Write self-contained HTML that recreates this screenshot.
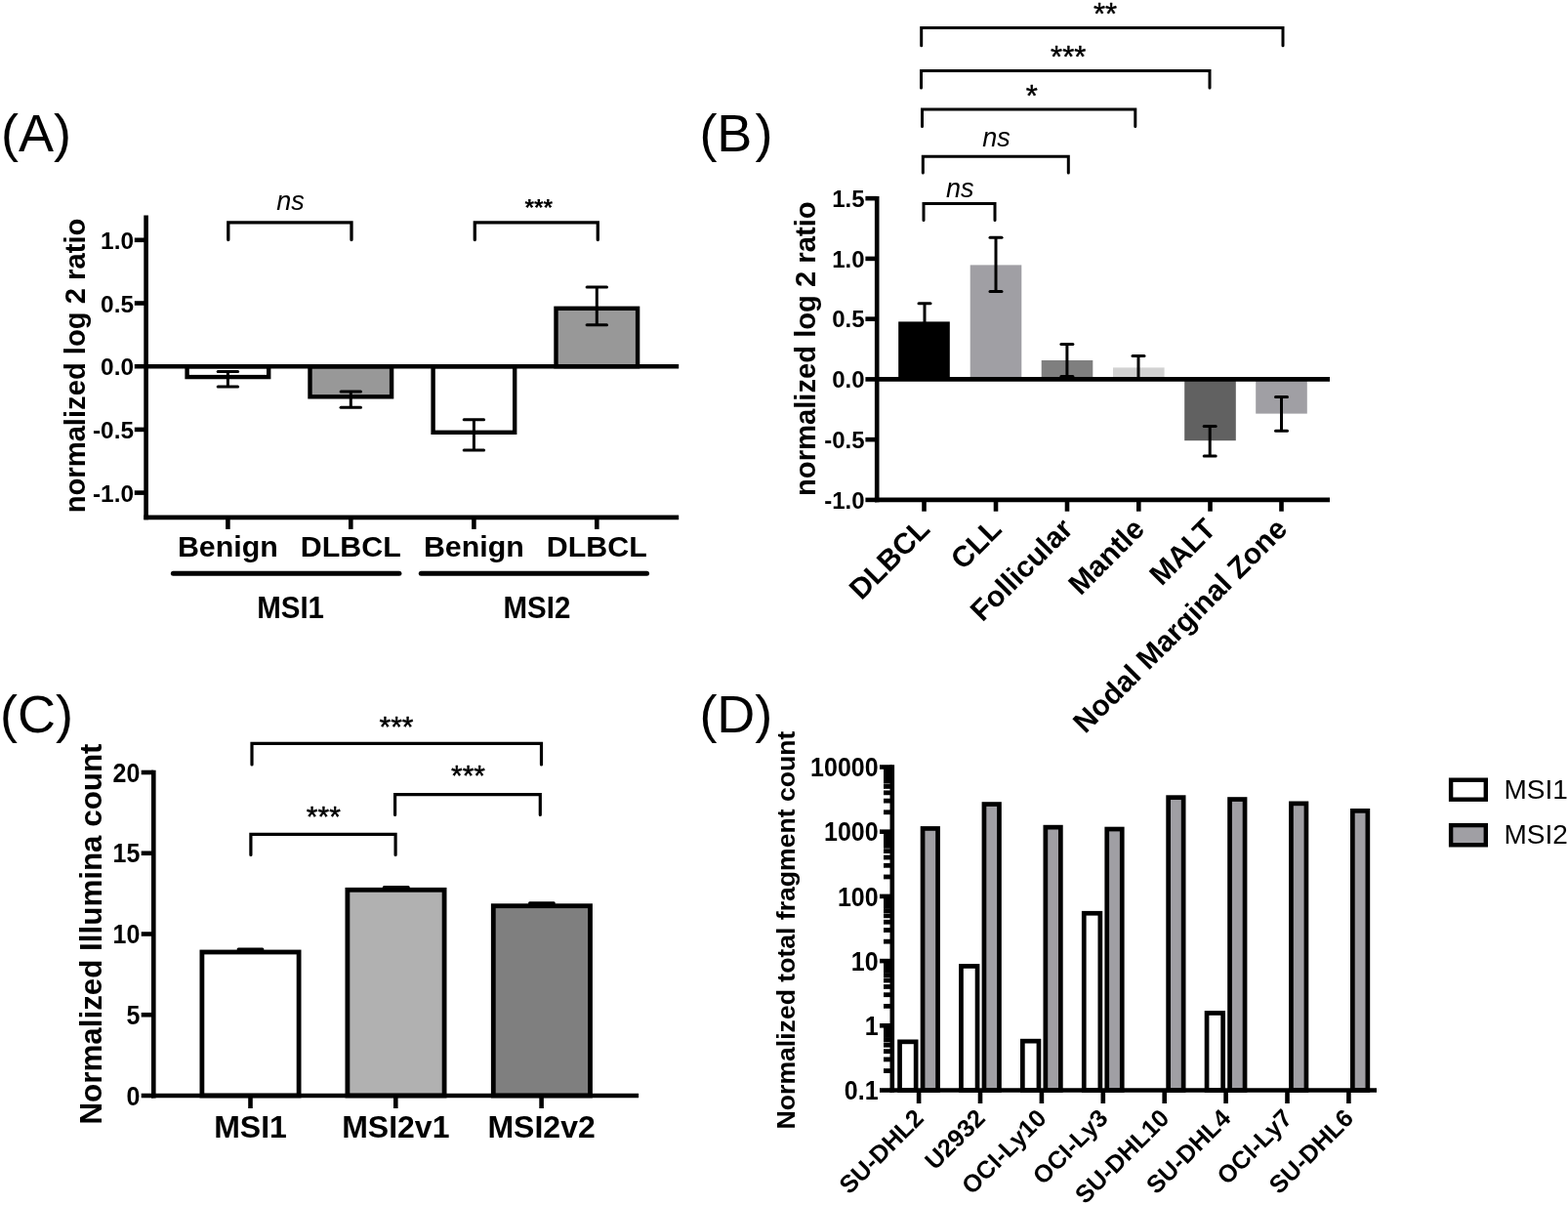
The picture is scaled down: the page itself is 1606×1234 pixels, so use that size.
<!DOCTYPE html>
<html><head><meta charset="utf-8"><title>Figure</title>
<style>html,body{margin:0;padding:0;background:#fff;} svg{display:block;}</style>
</head><body>
<svg width="1606" height="1234" viewBox="0 0 1606 1234">
<rect width="1606" height="1234" fill="#fff"/>
<text x="1.00" y="154.80" font-size="54" font-family="Liberation Sans, Arial, sans-serif" text-anchor="start" >(A)</text>
<text x="716.4" y="155.4" font-size="54" font-family="Liberation Sans, Arial, sans-serif">(B<tspan dx="3">)</tspan></text>
<text x="0.00" y="749.70" font-size="54" font-family="Liberation Sans, Arial, sans-serif" text-anchor="start" >(C)</text>
<text x="716.40" y="749.80" font-size="54" font-family="Liberation Sans, Arial, sans-serif" text-anchor="start" >(D)</text>
<rect x="191.60" y="375.20" width="83.60" height="10.87" fill="#fff" stroke="#000" stroke-width="4.4"/>
<rect x="317.50" y="375.20" width="83.60" height="31.10" fill="#989898" stroke="#000" stroke-width="4.4"/>
<rect x="443.60" y="375.20" width="83.60" height="67.60" fill="#fff" stroke="#000" stroke-width="4.4"/>
<rect x="569.50" y="315.80" width="83.60" height="59.40" fill="#989898" stroke="#000" stroke-width="4.4"/>
<line x1="233.40" y1="380.50" x2="233.40" y2="396.00" stroke="#000" stroke-width="3.0" stroke-linecap="butt"/>
<line x1="223.20" y1="380.50" x2="243.60" y2="380.50" stroke="#000" stroke-width="3.0" stroke-linecap="round"/>
<line x1="223.20" y1="396.00" x2="243.60" y2="396.00" stroke="#000" stroke-width="3.0" stroke-linecap="round"/>
<line x1="359.30" y1="401.00" x2="359.30" y2="417.30" stroke="#000" stroke-width="3.0" stroke-linecap="butt"/>
<line x1="349.10" y1="401.00" x2="369.50" y2="401.00" stroke="#000" stroke-width="3.0" stroke-linecap="round"/>
<line x1="349.10" y1="417.30" x2="369.50" y2="417.30" stroke="#000" stroke-width="3.0" stroke-linecap="round"/>
<line x1="485.40" y1="429.70" x2="485.40" y2="460.90" stroke="#000" stroke-width="3.0" stroke-linecap="butt"/>
<line x1="475.20" y1="429.70" x2="495.60" y2="429.70" stroke="#000" stroke-width="3.0" stroke-linecap="round"/>
<line x1="475.20" y1="460.90" x2="495.60" y2="460.90" stroke="#000" stroke-width="3.0" stroke-linecap="round"/>
<line x1="611.30" y1="293.90" x2="611.30" y2="332.80" stroke="#000" stroke-width="3.0" stroke-linecap="butt"/>
<line x1="601.10" y1="293.90" x2="621.50" y2="293.90" stroke="#000" stroke-width="3.0" stroke-linecap="round"/>
<line x1="601.10" y1="332.80" x2="621.50" y2="332.80" stroke="#000" stroke-width="3.0" stroke-linecap="round"/>
<line x1="149.60" y1="220.50" x2="149.60" y2="532.20" stroke="#000" stroke-width="4.6" stroke-linecap="butt"/>
<line x1="147.30" y1="529.90" x2="695.20" y2="529.90" stroke="#000" stroke-width="4.6" stroke-linecap="butt"/>
<line x1="149.60" y1="375.20" x2="695.20" y2="375.20" stroke="#000" stroke-width="4.6" stroke-linecap="butt"/>
<line x1="137.80" y1="245.80" x2="149.60" y2="245.80" stroke="#000" stroke-width="4.6" stroke-linecap="butt"/>
<text x="137.00" y="254.80" font-size="24.4" font-family="Liberation Sans, Arial, sans-serif" font-weight="bold" text-anchor="end" >1.0</text>
<line x1="137.80" y1="310.50" x2="149.60" y2="310.50" stroke="#000" stroke-width="4.6" stroke-linecap="butt"/>
<text x="137.00" y="319.50" font-size="24.4" font-family="Liberation Sans, Arial, sans-serif" font-weight="bold" text-anchor="end" >0.5</text>
<line x1="137.80" y1="375.20" x2="149.60" y2="375.20" stroke="#000" stroke-width="4.6" stroke-linecap="butt"/>
<text x="137.00" y="384.20" font-size="24.4" font-family="Liberation Sans, Arial, sans-serif" font-weight="bold" text-anchor="end" >0.0</text>
<line x1="137.80" y1="439.90" x2="149.60" y2="439.90" stroke="#000" stroke-width="4.6" stroke-linecap="butt"/>
<text x="137.00" y="448.90" font-size="24.4" font-family="Liberation Sans, Arial, sans-serif" font-weight="bold" text-anchor="end" >-0.5</text>
<line x1="137.80" y1="504.60" x2="149.60" y2="504.60" stroke="#000" stroke-width="4.6" stroke-linecap="butt"/>
<text x="137.00" y="513.60" font-size="24.4" font-family="Liberation Sans, Arial, sans-serif" font-weight="bold" text-anchor="end" >-1.0</text>
<line x1="233.40" y1="529.90" x2="233.40" y2="541.90" stroke="#000" stroke-width="4.6" stroke-linecap="butt"/>
<line x1="359.30" y1="529.90" x2="359.30" y2="541.90" stroke="#000" stroke-width="4.6" stroke-linecap="butt"/>
<line x1="485.40" y1="529.90" x2="485.40" y2="541.90" stroke="#000" stroke-width="4.6" stroke-linecap="butt"/>
<line x1="611.30" y1="529.90" x2="611.30" y2="541.90" stroke="#000" stroke-width="4.6" stroke-linecap="butt"/>
<text x="233.40" y="570.40" font-size="30.4" font-family="Liberation Sans, Arial, sans-serif" font-weight="bold" text-anchor="middle" >Benign</text>
<text x="359.30" y="570.40" font-size="30.4" font-family="Liberation Sans, Arial, sans-serif" font-weight="bold" text-anchor="middle" >DLBCL</text>
<text x="485.40" y="570.40" font-size="30.4" font-family="Liberation Sans, Arial, sans-serif" font-weight="bold" text-anchor="middle" >Benign</text>
<text x="611.30" y="570.40" font-size="30.4" font-family="Liberation Sans, Arial, sans-serif" font-weight="bold" text-anchor="middle" >DLBCL</text>
<line x1="177.40" y1="587.30" x2="408.90" y2="587.30" stroke="#000" stroke-width="5" stroke-linecap="round"/>
<line x1="431.30" y1="587.30" x2="662.50" y2="587.30" stroke="#000" stroke-width="5" stroke-linecap="round"/>
<text transform="translate(297.6,632.9) scale(1,1.07)" font-size="29.5" font-family="Liberation Sans, Arial, sans-serif" font-weight="bold" text-anchor="middle">MSI1</text>
<text transform="translate(549.9,632.9) scale(1,1.07)" font-size="29.5" font-family="Liberation Sans, Arial, sans-serif" font-weight="bold" text-anchor="middle">MSI2</text>
<text transform="translate(86.6,374.5) rotate(-90)" font-size="29.2" font-family="Liberation Sans, Arial, sans-serif" font-weight="bold" text-anchor="middle">normalized log 2 ratio</text>
<path d="M233.80 245.50 V227.80 H360.00 V245.50" fill="none" stroke="#000" stroke-width="3.3" stroke-linecap="round" stroke-linejoin="miter"/>
<path d="M486.30 245.50 V227.80 H612.30 V245.50" fill="none" stroke="#000" stroke-width="3.3" stroke-linecap="round" stroke-linejoin="miter"/>
<text x="297.40" y="214.90" font-size="27" font-family="Liberation Sans, Arial, sans-serif" font-style="italic" text-anchor="middle" >ns</text>
<text x="551.70" y="221.00" font-size="24.5" font-family="Liberation Sans, Arial, sans-serif" font-weight="bold" text-anchor="middle" >***</text>
<rect x="920.20" y="329.40" width="52.60" height="59.00" fill="#000"/>
<rect x="993.70" y="271.40" width="52.60" height="117.00" fill="#a09fa4"/>
<rect x="1066.70" y="369.00" width="52.60" height="19.40" fill="#7f7f7f"/>
<rect x="1140.00" y="376.40" width="52.60" height="12.00" fill="#d2d2d2"/>
<rect x="1213.20" y="388.40" width="52.60" height="62.80" fill="#616161"/>
<rect x="1286.20" y="388.40" width="52.60" height="35.20" fill="#a09fa4"/>
<line x1="947.00" y1="310.70" x2="947.00" y2="340.00" stroke="#000" stroke-width="3.0" stroke-linecap="butt"/>
<line x1="941.00" y1="310.70" x2="953.00" y2="310.70" stroke="#000" stroke-width="3.0" stroke-linecap="round"/>
<line x1="1020.00" y1="243.30" x2="1020.00" y2="298.50" stroke="#000" stroke-width="3.0" stroke-linecap="butt"/>
<line x1="1014.00" y1="243.30" x2="1026.00" y2="243.30" stroke="#000" stroke-width="3.0" stroke-linecap="round"/>
<line x1="1014.00" y1="298.50" x2="1026.00" y2="298.50" stroke="#000" stroke-width="3.0" stroke-linecap="round"/>
<line x1="1092.90" y1="352.40" x2="1092.90" y2="385.40" stroke="#000" stroke-width="3.0" stroke-linecap="butt"/>
<line x1="1086.90" y1="352.40" x2="1098.90" y2="352.40" stroke="#000" stroke-width="3.0" stroke-linecap="round"/>
<line x1="1086.90" y1="385.40" x2="1098.90" y2="385.40" stroke="#000" stroke-width="3.0" stroke-linecap="round"/>
<line x1="1166.00" y1="364.40" x2="1166.00" y2="388.40" stroke="#000" stroke-width="3.0" stroke-linecap="butt"/>
<line x1="1160.00" y1="364.40" x2="1172.00" y2="364.40" stroke="#000" stroke-width="3.0" stroke-linecap="round"/>
<line x1="1239.20" y1="436.40" x2="1239.20" y2="467.00" stroke="#000" stroke-width="3.0" stroke-linecap="butt"/>
<line x1="1233.20" y1="436.40" x2="1245.20" y2="436.40" stroke="#000" stroke-width="3.0" stroke-linecap="round"/>
<line x1="1233.20" y1="467.00" x2="1245.20" y2="467.00" stroke="#000" stroke-width="3.0" stroke-linecap="round"/>
<line x1="1312.50" y1="406.50" x2="1312.50" y2="441.30" stroke="#000" stroke-width="3.0" stroke-linecap="butt"/>
<line x1="1306.50" y1="406.50" x2="1318.50" y2="406.50" stroke="#000" stroke-width="3.0" stroke-linecap="round"/>
<line x1="1306.50" y1="441.30" x2="1318.50" y2="441.30" stroke="#000" stroke-width="3.0" stroke-linecap="round"/>
<line x1="898.20" y1="200.90" x2="898.20" y2="514.20" stroke="#000" stroke-width="4.6" stroke-linecap="butt"/>
<line x1="895.90" y1="511.90" x2="1362.00" y2="511.90" stroke="#000" stroke-width="4.6" stroke-linecap="butt"/>
<line x1="898.20" y1="388.40" x2="1362.00" y2="388.40" stroke="#000" stroke-width="4.6" stroke-linecap="butt"/>
<line x1="886.40" y1="203.15" x2="898.20" y2="203.15" stroke="#000" stroke-width="4.6" stroke-linecap="butt"/>
<text x="885.60" y="211.75" font-size="24" font-family="Liberation Sans, Arial, sans-serif" font-weight="bold" text-anchor="end" >1.5</text>
<line x1="886.40" y1="264.90" x2="898.20" y2="264.90" stroke="#000" stroke-width="4.6" stroke-linecap="butt"/>
<text x="885.60" y="273.50" font-size="24" font-family="Liberation Sans, Arial, sans-serif" font-weight="bold" text-anchor="end" >1.0</text>
<line x1="886.40" y1="326.65" x2="898.20" y2="326.65" stroke="#000" stroke-width="4.6" stroke-linecap="butt"/>
<text x="885.60" y="335.25" font-size="24" font-family="Liberation Sans, Arial, sans-serif" font-weight="bold" text-anchor="end" >0.5</text>
<line x1="886.40" y1="388.40" x2="898.20" y2="388.40" stroke="#000" stroke-width="4.6" stroke-linecap="butt"/>
<text x="885.60" y="397.00" font-size="24" font-family="Liberation Sans, Arial, sans-serif" font-weight="bold" text-anchor="end" >0.0</text>
<line x1="886.40" y1="450.15" x2="898.20" y2="450.15" stroke="#000" stroke-width="4.6" stroke-linecap="butt"/>
<text x="885.60" y="458.75" font-size="24" font-family="Liberation Sans, Arial, sans-serif" font-weight="bold" text-anchor="end" >-0.5</text>
<line x1="886.40" y1="511.90" x2="898.20" y2="511.90" stroke="#000" stroke-width="4.6" stroke-linecap="butt"/>
<text x="885.60" y="520.50" font-size="24" font-family="Liberation Sans, Arial, sans-serif" font-weight="bold" text-anchor="end" >-1.0</text>
<line x1="946.50" y1="511.90" x2="946.50" y2="523.70" stroke="#000" stroke-width="4.6" stroke-linecap="butt"/>
<text transform="translate(946.50,536) rotate(-45)" font-size="30" font-family="Liberation Sans, Arial, sans-serif" font-weight="bold" text-anchor="end" y="10.7">DLBCL</text>
<line x1="1020.00" y1="511.90" x2="1020.00" y2="523.70" stroke="#000" stroke-width="4.6" stroke-linecap="butt"/>
<text transform="translate(1020.00,536) rotate(-45)" font-size="30" font-family="Liberation Sans, Arial, sans-serif" font-weight="bold" text-anchor="end" y="10.7">CLL</text>
<line x1="1093.00" y1="511.90" x2="1093.00" y2="523.70" stroke="#000" stroke-width="4.6" stroke-linecap="butt"/>
<text transform="translate(1093.00,536) rotate(-45)" font-size="30" font-family="Liberation Sans, Arial, sans-serif" font-weight="bold" text-anchor="end" y="10.7">Follicular</text>
<line x1="1166.30" y1="511.90" x2="1166.30" y2="523.70" stroke="#000" stroke-width="4.6" stroke-linecap="butt"/>
<text transform="translate(1166.30,536) rotate(-45)" font-size="30" font-family="Liberation Sans, Arial, sans-serif" font-weight="bold" text-anchor="end" y="10.7">Mantle</text>
<line x1="1239.50" y1="511.90" x2="1239.50" y2="523.70" stroke="#000" stroke-width="4.6" stroke-linecap="butt"/>
<text transform="translate(1239.50,536) rotate(-45)" font-size="30" font-family="Liberation Sans, Arial, sans-serif" font-weight="bold" text-anchor="end" y="10.7">MALT</text>
<line x1="1312.50" y1="511.90" x2="1312.50" y2="523.70" stroke="#000" stroke-width="4.6" stroke-linecap="butt"/>
<text transform="translate(1312.50,536) rotate(-45)" font-size="30" font-family="Liberation Sans, Arial, sans-serif" font-weight="bold" text-anchor="end" y="10.7">Nodal Marginal Zone</text>
<text transform="translate(834.8,357.2) rotate(-90)" font-size="29.2" font-family="Liberation Sans, Arial, sans-serif" font-weight="bold" text-anchor="middle">normalized log 2 ratio</text>
<path d="M946.00 225.50 V208.50 H1019.00 V225.50" fill="none" stroke="#000" stroke-width="3.0" stroke-linecap="round" stroke-linejoin="miter"/>
<path d="M945.30 177.00 V160.20 H1094.30 V177.00" fill="none" stroke="#000" stroke-width="3.0" stroke-linecap="round" stroke-linejoin="miter"/>
<path d="M944.50 129.60 V111.90 H1162.80 V129.60" fill="none" stroke="#000" stroke-width="3.0" stroke-linecap="round" stroke-linejoin="miter"/>
<path d="M943.50 90.10 V72.50 H1239.00 V90.10" fill="none" stroke="#000" stroke-width="3.0" stroke-linecap="round" stroke-linejoin="miter"/>
<path d="M943.70 46.70 V28.50 H1314.00 V46.70" fill="none" stroke="#000" stroke-width="3.0" stroke-linecap="round" stroke-linejoin="miter"/>
<text x="983.20" y="201.70" font-size="27" font-family="Liberation Sans, Arial, sans-serif" font-style="italic" text-anchor="middle" >ns</text>
<text x="1020.40" y="150.00" font-size="27" font-family="Liberation Sans, Arial, sans-serif" font-style="italic" text-anchor="middle" >ns</text>
<text x="1056.80" y="109.40" font-size="31" font-family="Liberation Sans, Arial, sans-serif" text-anchor="middle"  stroke="#000" stroke-width="0.45" stroke-linejoin="round">*</text>
<text x="1094.20" y="68.70" font-size="31" font-family="Liberation Sans, Arial, sans-serif" text-anchor="middle"  stroke="#000" stroke-width="0.45" stroke-linejoin="round">***</text>
<text x="1132.10" y="25.20" font-size="31" font-family="Liberation Sans, Arial, sans-serif" text-anchor="middle"  stroke="#000" stroke-width="0.45" stroke-linejoin="round">**</text>
<rect x="206.90" y="975.00" width="99.20" height="147.00" fill="#fff" stroke="#000" stroke-width="4.8"/>
<rect x="355.90" y="911.30" width="99.20" height="210.70" fill="#b1b1b1" stroke="#000" stroke-width="4.8"/>
<rect x="505.30" y="927.70" width="99.20" height="194.30" fill="#7f7f7f" stroke="#000" stroke-width="4.8"/>
<line x1="244.10" y1="972.00" x2="268.90" y2="972.00" stroke="#000" stroke-width="3.0" stroke-linecap="round"/>
<line x1="393.40" y1="908.40" x2="418.20" y2="908.40" stroke="#000" stroke-width="3.0" stroke-linecap="round"/>
<line x1="542.50" y1="924.80" x2="567.30" y2="924.80" stroke="#000" stroke-width="3.0" stroke-linecap="round"/>
<line x1="157.30" y1="788.80" x2="157.30" y2="1124.40" stroke="#000" stroke-width="4.6" stroke-linecap="butt"/>
<line x1="155.00" y1="1122.00" x2="654.10" y2="1122.00" stroke="#000" stroke-width="4.6" stroke-linecap="butt"/>
<line x1="144.70" y1="1122.00" x2="157.30" y2="1122.00" stroke="#000" stroke-width="4.6" stroke-linecap="butt"/>
<text transform="translate(143.4,1122.00) scale(1,1.08)" y="8.9" font-size="25" font-family="Liberation Sans, Arial, sans-serif" font-weight="bold" text-anchor="end">0</text>
<line x1="144.70" y1="1039.25" x2="157.30" y2="1039.25" stroke="#000" stroke-width="4.6" stroke-linecap="butt"/>
<text transform="translate(143.4,1039.25) scale(1,1.08)" y="8.9" font-size="25" font-family="Liberation Sans, Arial, sans-serif" font-weight="bold" text-anchor="end">5</text>
<line x1="144.70" y1="956.50" x2="157.30" y2="956.50" stroke="#000" stroke-width="4.6" stroke-linecap="butt"/>
<text transform="translate(143.4,956.50) scale(1,1.08)" y="8.9" font-size="25" font-family="Liberation Sans, Arial, sans-serif" font-weight="bold" text-anchor="end">10</text>
<line x1="144.70" y1="873.75" x2="157.30" y2="873.75" stroke="#000" stroke-width="4.6" stroke-linecap="butt"/>
<text transform="translate(143.4,873.75) scale(1,1.08)" y="8.9" font-size="25" font-family="Liberation Sans, Arial, sans-serif" font-weight="bold" text-anchor="end">15</text>
<line x1="144.70" y1="791.00" x2="157.30" y2="791.00" stroke="#000" stroke-width="4.6" stroke-linecap="butt"/>
<text transform="translate(143.4,791.00) scale(1,1.08)" y="8.9" font-size="25" font-family="Liberation Sans, Arial, sans-serif" font-weight="bold" text-anchor="end">20</text>
<line x1="256.50" y1="1122.00" x2="256.50" y2="1135.00" stroke="#000" stroke-width="4.6" stroke-linecap="butt"/>
<text x="256.50" y="1165.40" font-size="32" font-family="Liberation Sans, Arial, sans-serif" font-weight="bold" text-anchor="middle" >MSI1</text>
<line x1="405.30" y1="1122.00" x2="405.30" y2="1135.00" stroke="#000" stroke-width="4.6" stroke-linecap="butt"/>
<text x="405.30" y="1165.40" font-size="32" font-family="Liberation Sans, Arial, sans-serif" font-weight="bold" text-anchor="middle" >MSI2v1</text>
<line x1="554.60" y1="1122.00" x2="554.60" y2="1135.00" stroke="#000" stroke-width="4.6" stroke-linecap="butt"/>
<text x="554.60" y="1165.40" font-size="32" font-family="Liberation Sans, Arial, sans-serif" font-weight="bold" text-anchor="middle" >MSI2v2</text>
<text transform="translate(104.3,956.5) rotate(-90)" font-size="31.35" font-family="Liberation Sans, Arial, sans-serif" font-weight="bold" text-anchor="middle">Normalized Illumina count</text>
<path d="M258.00 783.00 V761.30 H554.50 V783.00" fill="none" stroke="#000" stroke-width="3.2" stroke-linecap="round" stroke-linejoin="miter"/>
<path d="M404.60 834.40 V813.70 H553.30 V834.40" fill="none" stroke="#000" stroke-width="3.2" stroke-linecap="round" stroke-linejoin="miter"/>
<path d="M256.90 875.40 V854.40 H405.10 V875.40" fill="none" stroke="#000" stroke-width="3.2" stroke-linecap="round" stroke-linejoin="miter"/>
<text x="406.00" y="754.40" font-size="30" font-family="Liberation Sans, Arial, sans-serif" text-anchor="middle"  stroke="#000" stroke-width="0.45" stroke-linejoin="round">***</text>
<text x="479.50" y="803.80" font-size="30" font-family="Liberation Sans, Arial, sans-serif" text-anchor="middle"  stroke="#000" stroke-width="0.45" stroke-linejoin="round">***</text>
<text x="331.30" y="845.60" font-size="30" font-family="Liberation Sans, Arial, sans-serif" text-anchor="middle"  stroke="#000" stroke-width="0.45" stroke-linejoin="round">***</text>
<rect x="921.55" y="1066.85" width="16.60" height="49.65" fill="#fff" stroke="#000" stroke-width="4.7"/>
<rect x="945.05" y="848.45" width="15.50" height="268.05" fill="#a09fa4" stroke="#000" stroke-width="4.7"/>
<rect x="984.45" y="989.45" width="16.60" height="127.05" fill="#fff" stroke="#000" stroke-width="4.7"/>
<rect x="1007.95" y="823.55" width="15.50" height="292.95" fill="#a09fa4" stroke="#000" stroke-width="4.7"/>
<rect x="1047.35" y="1066.15" width="16.60" height="50.35" fill="#fff" stroke="#000" stroke-width="4.7"/>
<rect x="1070.85" y="847.15" width="15.50" height="269.35" fill="#a09fa4" stroke="#000" stroke-width="4.7"/>
<rect x="1110.25" y="935.25" width="16.60" height="181.25" fill="#fff" stroke="#000" stroke-width="4.7"/>
<rect x="1133.75" y="849.05" width="15.50" height="267.45" fill="#a09fa4" stroke="#000" stroke-width="4.7"/>
<rect x="1196.65" y="816.65" width="15.50" height="299.85" fill="#a09fa4" stroke="#000" stroke-width="4.7"/>
<rect x="1236.05" y="1037.45" width="16.60" height="79.05" fill="#fff" stroke="#000" stroke-width="4.7"/>
<rect x="1259.55" y="818.55" width="15.50" height="297.95" fill="#a09fa4" stroke="#000" stroke-width="4.7"/>
<rect x="1322.45" y="822.85" width="15.50" height="293.65" fill="#a09fa4" stroke="#000" stroke-width="4.7"/>
<rect x="1385.35" y="830.35" width="15.50" height="286.15" fill="#a09fa4" stroke="#000" stroke-width="4.7"/>
<line x1="905.00" y1="1096.57" x2="913.80" y2="1096.57" stroke="#000" stroke-width="4.8" stroke-linecap="butt"/>
<line x1="905.00" y1="1084.91" x2="913.80" y2="1084.91" stroke="#000" stroke-width="4.8" stroke-linecap="butt"/>
<line x1="905.00" y1="1076.64" x2="913.80" y2="1076.64" stroke="#000" stroke-width="4.8" stroke-linecap="butt"/>
<line x1="905.00" y1="1070.23" x2="913.80" y2="1070.23" stroke="#000" stroke-width="4.8" stroke-linecap="butt"/>
<line x1="905.00" y1="1064.99" x2="913.80" y2="1064.99" stroke="#000" stroke-width="4.8" stroke-linecap="butt"/>
<line x1="905.00" y1="1060.55" x2="913.80" y2="1060.55" stroke="#000" stroke-width="4.8" stroke-linecap="butt"/>
<line x1="905.00" y1="1056.72" x2="913.80" y2="1056.72" stroke="#000" stroke-width="4.8" stroke-linecap="butt"/>
<line x1="905.00" y1="1053.33" x2="913.80" y2="1053.33" stroke="#000" stroke-width="4.8" stroke-linecap="butt"/>
<line x1="905.00" y1="1030.37" x2="913.80" y2="1030.37" stroke="#000" stroke-width="4.8" stroke-linecap="butt"/>
<line x1="905.00" y1="1018.71" x2="913.80" y2="1018.71" stroke="#000" stroke-width="4.8" stroke-linecap="butt"/>
<line x1="905.00" y1="1010.44" x2="913.80" y2="1010.44" stroke="#000" stroke-width="4.8" stroke-linecap="butt"/>
<line x1="905.00" y1="1004.03" x2="913.80" y2="1004.03" stroke="#000" stroke-width="4.8" stroke-linecap="butt"/>
<line x1="905.00" y1="998.79" x2="913.80" y2="998.79" stroke="#000" stroke-width="4.8" stroke-linecap="butt"/>
<line x1="905.00" y1="994.35" x2="913.80" y2="994.35" stroke="#000" stroke-width="4.8" stroke-linecap="butt"/>
<line x1="905.00" y1="990.52" x2="913.80" y2="990.52" stroke="#000" stroke-width="4.8" stroke-linecap="butt"/>
<line x1="905.00" y1="987.13" x2="913.80" y2="987.13" stroke="#000" stroke-width="4.8" stroke-linecap="butt"/>
<line x1="905.00" y1="964.17" x2="913.80" y2="964.17" stroke="#000" stroke-width="4.8" stroke-linecap="butt"/>
<line x1="905.00" y1="952.51" x2="913.80" y2="952.51" stroke="#000" stroke-width="4.8" stroke-linecap="butt"/>
<line x1="905.00" y1="944.24" x2="913.80" y2="944.24" stroke="#000" stroke-width="4.8" stroke-linecap="butt"/>
<line x1="905.00" y1="937.83" x2="913.80" y2="937.83" stroke="#000" stroke-width="4.8" stroke-linecap="butt"/>
<line x1="905.00" y1="932.59" x2="913.80" y2="932.59" stroke="#000" stroke-width="4.8" stroke-linecap="butt"/>
<line x1="905.00" y1="928.15" x2="913.80" y2="928.15" stroke="#000" stroke-width="4.8" stroke-linecap="butt"/>
<line x1="905.00" y1="924.32" x2="913.80" y2="924.32" stroke="#000" stroke-width="4.8" stroke-linecap="butt"/>
<line x1="905.00" y1="920.93" x2="913.80" y2="920.93" stroke="#000" stroke-width="4.8" stroke-linecap="butt"/>
<line x1="905.00" y1="897.97" x2="913.80" y2="897.97" stroke="#000" stroke-width="4.8" stroke-linecap="butt"/>
<line x1="905.00" y1="886.31" x2="913.80" y2="886.31" stroke="#000" stroke-width="4.8" stroke-linecap="butt"/>
<line x1="905.00" y1="878.04" x2="913.80" y2="878.04" stroke="#000" stroke-width="4.8" stroke-linecap="butt"/>
<line x1="905.00" y1="871.63" x2="913.80" y2="871.63" stroke="#000" stroke-width="4.8" stroke-linecap="butt"/>
<line x1="905.00" y1="866.39" x2="913.80" y2="866.39" stroke="#000" stroke-width="4.8" stroke-linecap="butt"/>
<line x1="905.00" y1="861.95" x2="913.80" y2="861.95" stroke="#000" stroke-width="4.8" stroke-linecap="butt"/>
<line x1="905.00" y1="858.12" x2="913.80" y2="858.12" stroke="#000" stroke-width="4.8" stroke-linecap="butt"/>
<line x1="905.00" y1="854.73" x2="913.80" y2="854.73" stroke="#000" stroke-width="4.8" stroke-linecap="butt"/>
<line x1="905.00" y1="831.77" x2="913.80" y2="831.77" stroke="#000" stroke-width="4.8" stroke-linecap="butt"/>
<line x1="905.00" y1="820.11" x2="913.80" y2="820.11" stroke="#000" stroke-width="4.8" stroke-linecap="butt"/>
<line x1="905.00" y1="811.84" x2="913.80" y2="811.84" stroke="#000" stroke-width="4.8" stroke-linecap="butt"/>
<line x1="905.00" y1="805.43" x2="913.80" y2="805.43" stroke="#000" stroke-width="4.8" stroke-linecap="butt"/>
<line x1="905.00" y1="800.19" x2="913.80" y2="800.19" stroke="#000" stroke-width="4.8" stroke-linecap="butt"/>
<line x1="905.00" y1="795.75" x2="913.80" y2="795.75" stroke="#000" stroke-width="4.8" stroke-linecap="butt"/>
<line x1="905.00" y1="791.92" x2="913.80" y2="791.92" stroke="#000" stroke-width="4.8" stroke-linecap="butt"/>
<line x1="905.00" y1="788.53" x2="913.80" y2="788.53" stroke="#000" stroke-width="4.8" stroke-linecap="butt"/>
<line x1="901.00" y1="1116.50" x2="913.80" y2="1116.50" stroke="#000" stroke-width="4.6" stroke-linecap="butt"/>
<text transform="translate(899.6,1116.50) scale(1,1.08)" y="8.9" font-size="25" font-family="Liberation Sans, Arial, sans-serif" font-weight="bold" text-anchor="end">0.1</text>
<line x1="901.00" y1="1050.30" x2="913.80" y2="1050.30" stroke="#000" stroke-width="4.6" stroke-linecap="butt"/>
<text transform="translate(899.6,1050.30) scale(1,1.08)" y="8.9" font-size="25" font-family="Liberation Sans, Arial, sans-serif" font-weight="bold" text-anchor="end">1</text>
<line x1="901.00" y1="984.10" x2="913.80" y2="984.10" stroke="#000" stroke-width="4.6" stroke-linecap="butt"/>
<text transform="translate(899.6,984.10) scale(1,1.08)" y="8.9" font-size="25" font-family="Liberation Sans, Arial, sans-serif" font-weight="bold" text-anchor="end">10</text>
<line x1="901.00" y1="917.90" x2="913.80" y2="917.90" stroke="#000" stroke-width="4.6" stroke-linecap="butt"/>
<text transform="translate(899.6,917.90) scale(1,1.08)" y="8.9" font-size="25" font-family="Liberation Sans, Arial, sans-serif" font-weight="bold" text-anchor="end">100</text>
<line x1="901.00" y1="851.70" x2="913.80" y2="851.70" stroke="#000" stroke-width="4.6" stroke-linecap="butt"/>
<text transform="translate(899.6,851.70) scale(1,1.08)" y="8.9" font-size="25" font-family="Liberation Sans, Arial, sans-serif" font-weight="bold" text-anchor="end">1000</text>
<line x1="901.00" y1="785.50" x2="913.80" y2="785.50" stroke="#000" stroke-width="4.6" stroke-linecap="butt"/>
<text transform="translate(899.6,785.50) scale(1,1.08)" y="8.9" font-size="25" font-family="Liberation Sans, Arial, sans-serif" font-weight="bold" text-anchor="end">10000</text>
<line x1="913.80" y1="783.20" x2="913.80" y2="1118.80" stroke="#000" stroke-width="4.6" stroke-linecap="butt"/>
<line x1="911.50" y1="1116.50" x2="1410.00" y2="1116.50" stroke="#000" stroke-width="4.6" stroke-linecap="butt"/>
<line x1="941.10" y1="1116.50" x2="941.10" y2="1130.00" stroke="#000" stroke-width="4.6" stroke-linecap="butt"/>
<text transform="translate(941.10,1140.2) rotate(-45)" font-size="25.3" font-family="Liberation Sans, Arial, sans-serif" font-weight="bold" text-anchor="end" y="9.0">SU-DHL2</text>
<line x1="1004.00" y1="1116.50" x2="1004.00" y2="1130.00" stroke="#000" stroke-width="4.6" stroke-linecap="butt"/>
<text transform="translate(1004.00,1140.2) rotate(-45)" font-size="25.3" font-family="Liberation Sans, Arial, sans-serif" font-weight="bold" text-anchor="end" y="9.0">U2932</text>
<line x1="1066.90" y1="1116.50" x2="1066.90" y2="1130.00" stroke="#000" stroke-width="4.6" stroke-linecap="butt"/>
<text transform="translate(1066.90,1140.2) rotate(-45)" font-size="25.3" font-family="Liberation Sans, Arial, sans-serif" font-weight="bold" text-anchor="end" y="9.0">OCI-Ly10</text>
<line x1="1129.80" y1="1116.50" x2="1129.80" y2="1130.00" stroke="#000" stroke-width="4.6" stroke-linecap="butt"/>
<text transform="translate(1129.80,1140.2) rotate(-45)" font-size="25.3" font-family="Liberation Sans, Arial, sans-serif" font-weight="bold" text-anchor="end" y="9.0">OCI-Ly3</text>
<line x1="1192.70" y1="1116.50" x2="1192.70" y2="1130.00" stroke="#000" stroke-width="4.6" stroke-linecap="butt"/>
<text transform="translate(1192.70,1140.2) rotate(-45)" font-size="25.3" font-family="Liberation Sans, Arial, sans-serif" font-weight="bold" text-anchor="end" y="9.0">SU-DHL10</text>
<line x1="1255.60" y1="1116.50" x2="1255.60" y2="1130.00" stroke="#000" stroke-width="4.6" stroke-linecap="butt"/>
<text transform="translate(1255.60,1140.2) rotate(-45)" font-size="25.3" font-family="Liberation Sans, Arial, sans-serif" font-weight="bold" text-anchor="end" y="9.0">SU-DHL4</text>
<line x1="1318.50" y1="1116.50" x2="1318.50" y2="1130.00" stroke="#000" stroke-width="4.6" stroke-linecap="butt"/>
<text transform="translate(1318.50,1140.2) rotate(-45)" font-size="25.3" font-family="Liberation Sans, Arial, sans-serif" font-weight="bold" text-anchor="end" y="9.0">OCI-Ly7</text>
<line x1="1381.40" y1="1116.50" x2="1381.40" y2="1130.00" stroke="#000" stroke-width="4.6" stroke-linecap="butt"/>
<text transform="translate(1381.40,1140.2) rotate(-45)" font-size="25.3" font-family="Liberation Sans, Arial, sans-serif" font-weight="bold" text-anchor="end" y="9.0">SU-DHL6</text>
<text transform="translate(814.0,952.5) rotate(-90)" font-size="26.6" font-family="Liberation Sans, Arial, sans-serif" font-weight="bold" text-anchor="middle">Normalized total fragment count</text>
<rect x="1486.10" y="798.70" width="35.70" height="20.00" fill="#fff" stroke="#000" stroke-width="4.4"/>
<rect x="1486.10" y="845.10" width="35.70" height="20.20" fill="#a09fa4" stroke="#000" stroke-width="4.4"/>
<text x="1540.50" y="817.60" font-size="28" font-family="Liberation Sans, Arial, sans-serif" text-anchor="start" >MSI1</text>
<text x="1540.50" y="863.80" font-size="28" font-family="Liberation Sans, Arial, sans-serif" text-anchor="start" >MSI2</text>
</svg>
</body></html>
